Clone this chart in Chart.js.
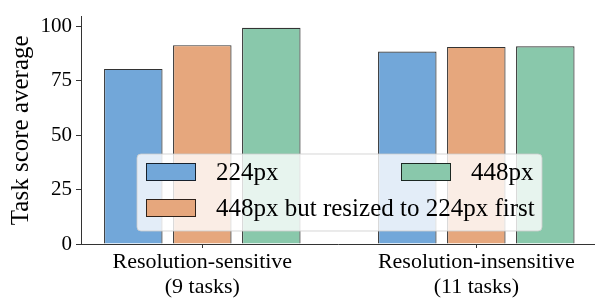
<!DOCTYPE html>
<html>
<head>
<meta charset="utf-8">
<script src="https://cdn.jsdelivr.net/npm/chart.js@4.4.1/dist/chart.umd.min.js"></script>
<style>
  html, body { margin: 0; padding: 0; background: #fff; }
  #wrap { width: 595px; height: 300px; position: relative; }
</style>
</head>
<body>
<div id="wrap"><canvas id="chart"></canvas></div>
<script>
const groups = [['Resolution-sensitive', '(9 tasks)'], ['Resolution-insensitive', '(11 tasks)']];
const seriesNames = ['224px', '448px but resized to 224px first', '448px'];
const score224 = [80.4, 88.4];
const scoreResized = [91.3, 90.5];
const score448 = [99.3, 90.8];
const yTicks = [0, 25, 50, 75, 100];

const fills = ['#72a7d9', '#e6a77d', '#89c8ab'];
const edge = 'rgba(0,0,0,0.8)';
const serif = "'Liberation Serif', 'Times New Roman', serif";

function toPoints(vals) {
    return vals.map((v, i) => ({ x: i, y: v }));
}

// legend drawn inside the plot, 2 columns like matplotlib
const innerLegend = {
    id: 'innerLegend',
    afterDatasetsDraw(chart) {
        const ctx = chart.ctx;
        const box = { x: 137, y: 154, w: 405, h: 77 };
        ctx.save();
        ctx.beginPath();
        ctx.roundRect(box.x, box.y, box.w, box.h, 4);
        ctx.fillStyle = 'rgba(255,255,255,0.8)';
        ctx.fill();
        ctx.strokeStyle = 'rgba(204,204,204,0.8)';
        ctx.lineWidth = 1;
        ctx.stroke();

        const slots = [
            { sx: 146, cy: 172 },
            { sx: 146, cy: 208 },
            { sx: 401, cy: 172 }
        ];
        ctx.font = '25px ' + serif;
        ctx.textBaseline = 'middle';
        chart.data.datasets.forEach((ds, i) => {
            const s = slots[i];
            ctx.fillStyle = ds.backgroundColor;
            ctx.fillRect(s.sx, s.cy - 9, 50, 18);
            ctx.strokeStyle = ds.borderColor;
            ctx.strokeRect(s.sx + 0.5, s.cy - 8.5, 49, 17);
            ctx.fillStyle = '#000';
            ctx.fillText(ds.label, s.sx + 70, s.cy + 1);
        });
        ctx.restore();
    }
};

const datasets = [score224, scoreResized, score448].map((vals, i) => ({
    label: seriesNames[i],
    data: toPoints(vals),
    backgroundColor: fills[i],
    borderColor: edge,
    borderWidth: 1.2,
    categoryPercentage: 0.7555,
    barPercentage: 0.848
}));

new Chart(document.getElementById('chart'), {
    type: 'bar',
    data: { datasets },
    options: {
        responsive: true,
        maintainAspectRatio: false,
        animation: false,
        layout: { padding: { top: 6, right: 0, left: 0, bottom: 0 } },
        plugins: {
            legend: { display: false },
            tooltip: { enabled: false }
        },
        scales: {
            x: {
                type: 'linear',
                offset: false,
                min: -0.4427,
                max: 1.4332,
                afterBuildTicks: (scale) => { scale.ticks = groups.map((g, i) => ({ value: i })); },
                afterFit: (scale) => { scale.height = 56; },
                ticks: {
                    callback: (v) => groups[v],
                    color: '#000',
                    font: { family: serif, size: 22, lineHeight: 1.14 },
                    padding: 2,
                    maxRotation: 0
                },
                grid: { display: true, offset: false, drawOnChartArea: false, drawTicks: true, tickLength: 4, tickColor: '#333' },
                border: { color: '#333', width: 1 }
            },
            y: {
                min: 0,
                max: 104.4,
                afterBuildTicks: (scale) => { scale.ticks = yTicks.map(v => ({ value: v })); },
                afterFit: (scale) => { scale.width = 81; },
                ticks: {
                    color: '#000',
                    font: { family: serif, size: 21 },
                    padding: 4
                },
                grid: { display: true, drawOnChartArea: false, drawTicks: true, tickLength: 5, tickColor: '#333' },
                border: { color: '#333', width: 1 },
                title: {
                    display: true,
                    text: 'Task score average',
                    color: '#000',
                    font: { family: serif, size: 25 },
                    padding: { top: 6, bottom: 0 }
                }
            }
        }
    },
    plugins: [innerLegend]
});
</script>
</body>
</html>
